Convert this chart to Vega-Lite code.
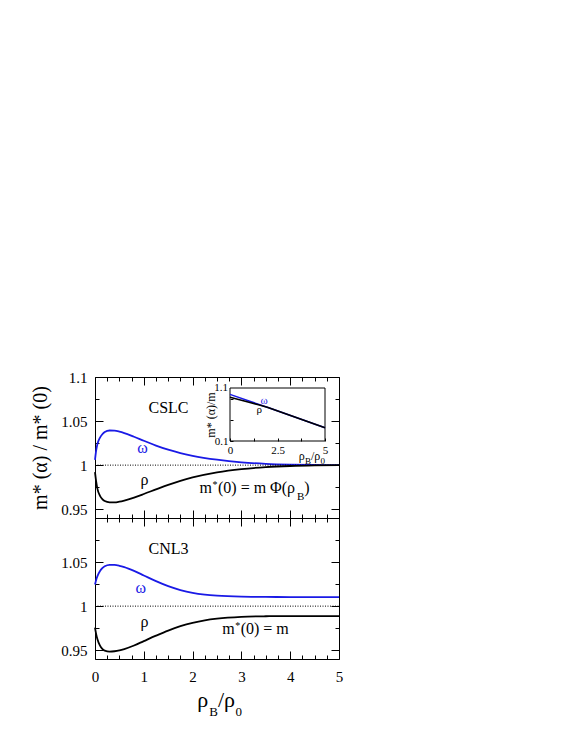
{
  "$schema": "https://vega.github.io/schema/vega-lite/v6.json",
  "padding": {"left": 30, "top": 369, "right": 5, "bottom": 5},
  "config": {
    "font": "Liberation Serif",
    "view": {"stroke": "#000000", "strokeWidth": 1},
    "axis": {"grid": false, "domain": false, "labelFont": "Liberation Serif", "titleFont": "Liberation Serif", "labelColor": "#000000", "titleColor": "#000000", "tickColor": "#000000", "labelFontSize": 15, "titleFontWeight": "normal", "labelFlush": false, "labelOverlap": false, "labelBound": false, "tickWidth": 1, "ticks": true},
    "text": {"font": "Liberation Serif", "align": "left", "baseline": "alphabetic"}
  },
  "datasets": {
    "curves": [
      {"panel": "CSLC", "meson": "ω", "r": 0, "v": 1.006},
      {"panel": "CSLC", "meson": "ω", "r": 0.025, "v": 1.017},
      {"panel": "CSLC", "meson": "ω", "r": 0.05, "v": 1.024},
      {"panel": "CSLC", "meson": "ω", "r": 0.1, "v": 1.031},
      {"panel": "CSLC", "meson": "ω", "r": 0.15, "v": 1.035},
      {"panel": "CSLC", "meson": "ω", "r": 0.2, "v": 1.0375},
      {"panel": "CSLC", "meson": "ω", "r": 0.3, "v": 1.0393},
      {"panel": "CSLC", "meson": "ω", "r": 0.4, "v": 1.0391},
      {"panel": "CSLC", "meson": "ω", "r": 0.5, "v": 1.038},
      {"panel": "CSLC", "meson": "ω", "r": 0.6, "v": 1.0364},
      {"panel": "CSLC", "meson": "ω", "r": 0.8, "v": 1.0322},
      {"panel": "CSLC", "meson": "ω", "r": 1.0, "v": 1.0277},
      {"panel": "CSLC", "meson": "ω", "r": 1.25, "v": 1.0222},
      {"panel": "CSLC", "meson": "ω", "r": 1.5, "v": 1.0175},
      {"panel": "CSLC", "meson": "ω", "r": 1.75, "v": 1.0136},
      {"panel": "CSLC", "meson": "ω", "r": 2.0, "v": 1.0106},
      {"panel": "CSLC", "meson": "ω", "r": 2.5, "v": 1.0062},
      {"panel": "CSLC", "meson": "ω", "r": 3.0, "v": 1.0032},
      {"panel": "CSLC", "meson": "ω", "r": 3.5, "v": 1.0015},
      {"panel": "CSLC", "meson": "ω", "r": 4.0, "v": 1.0006},
      {"panel": "CSLC", "meson": "ω", "r": 4.5, "v": 1.0002},
      {"panel": "CSLC", "meson": "ω", "r": 5.0, "v": 1.0},
      {"panel": "CSLC", "meson": "ρ", "r": 0, "v": 0.992},
      {"panel": "CSLC", "meson": "ρ", "r": 0.025, "v": 0.981},
      {"panel": "CSLC", "meson": "ρ", "r": 0.05, "v": 0.973},
      {"panel": "CSLC", "meson": "ρ", "r": 0.1, "v": 0.9655},
      {"panel": "CSLC", "meson": "ρ", "r": 0.15, "v": 0.9615},
      {"panel": "CSLC", "meson": "ρ", "r": 0.2, "v": 0.9593},
      {"panel": "CSLC", "meson": "ρ", "r": 0.3, "v": 0.9578},
      {"panel": "CSLC", "meson": "ρ", "r": 0.4, "v": 0.9577},
      {"panel": "CSLC", "meson": "ρ", "r": 0.5, "v": 0.9585},
      {"panel": "CSLC", "meson": "ρ", "r": 0.6, "v": 0.9598},
      {"panel": "CSLC", "meson": "ρ", "r": 0.8, "v": 0.9632},
      {"panel": "CSLC", "meson": "ρ", "r": 1.0, "v": 0.9672},
      {"panel": "CSLC", "meson": "ρ", "r": 1.25, "v": 0.9725},
      {"panel": "CSLC", "meson": "ρ", "r": 1.5, "v": 0.9777},
      {"panel": "CSLC", "meson": "ρ", "r": 1.75, "v": 0.9822},
      {"panel": "CSLC", "meson": "ρ", "r": 2.0, "v": 0.986},
      {"panel": "CSLC", "meson": "ρ", "r": 2.5, "v": 0.9918},
      {"panel": "CSLC", "meson": "ρ", "r": 3.0, "v": 0.9955},
      {"panel": "CSLC", "meson": "ρ", "r": 3.5, "v": 0.9977},
      {"panel": "CSLC", "meson": "ρ", "r": 4.0, "v": 0.999},
      {"panel": "CSLC", "meson": "ρ", "r": 4.5, "v": 0.9997},
      {"panel": "CSLC", "meson": "ρ", "r": 5.0, "v": 1.0},
      {"panel": "CNL3", "meson": "ω", "r": 0, "v": 1.0245},
      {"panel": "CNL3", "meson": "ω", "r": 0.025, "v": 1.03},
      {"panel": "CNL3", "meson": "ω", "r": 0.05, "v": 1.034},
      {"panel": "CNL3", "meson": "ω", "r": 0.1, "v": 1.0395},
      {"panel": "CNL3", "meson": "ω", "r": 0.15, "v": 1.043},
      {"panel": "CNL3", "meson": "ω", "r": 0.2, "v": 1.0452},
      {"panel": "CNL3", "meson": "ω", "r": 0.3, "v": 1.0468},
      {"panel": "CNL3", "meson": "ω", "r": 0.4, "v": 1.0467},
      {"panel": "CNL3", "meson": "ω", "r": 0.5, "v": 1.0458},
      {"panel": "CNL3", "meson": "ω", "r": 0.6, "v": 1.0443},
      {"panel": "CNL3", "meson": "ω", "r": 0.8, "v": 1.04},
      {"panel": "CNL3", "meson": "ω", "r": 1.0, "v": 1.0348},
      {"panel": "CNL3", "meson": "ω", "r": 1.25, "v": 1.0283},
      {"panel": "CNL3", "meson": "ω", "r": 1.5, "v": 1.0226},
      {"panel": "CNL3", "meson": "ω", "r": 1.75, "v": 1.0182},
      {"panel": "CNL3", "meson": "ω", "r": 2.0, "v": 1.015},
      {"panel": "CNL3", "meson": "ω", "r": 2.25, "v": 1.013},
      {"panel": "CNL3", "meson": "ω", "r": 2.5, "v": 1.0118},
      {"panel": "CNL3", "meson": "ω", "r": 3.0, "v": 1.0107},
      {"panel": "CNL3", "meson": "ω", "r": 3.5, "v": 1.0104},
      {"panel": "CNL3", "meson": "ω", "r": 4.0, "v": 1.0103},
      {"panel": "CNL3", "meson": "ω", "r": 5.0, "v": 1.0103},
      {"panel": "CNL3", "meson": "ρ", "r": 0, "v": 0.9755},
      {"panel": "CNL3", "meson": "ρ", "r": 0.025, "v": 0.968},
      {"panel": "CNL3", "meson": "ρ", "r": 0.05, "v": 0.9625},
      {"panel": "CNL3", "meson": "ρ", "r": 0.1, "v": 0.9555},
      {"panel": "CNL3", "meson": "ρ", "r": 0.15, "v": 0.9515},
      {"panel": "CNL3", "meson": "ρ", "r": 0.2, "v": 0.9495},
      {"panel": "CNL3", "meson": "ρ", "r": 0.3, "v": 0.9484},
      {"panel": "CNL3", "meson": "ρ", "r": 0.4, "v": 0.9488},
      {"panel": "CNL3", "meson": "ρ", "r": 0.5, "v": 0.9498},
      {"panel": "CNL3", "meson": "ρ", "r": 0.6, "v": 0.9513},
      {"panel": "CNL3", "meson": "ρ", "r": 0.8, "v": 0.9553},
      {"panel": "CNL3", "meson": "ρ", "r": 1.0, "v": 0.9603},
      {"panel": "CNL3", "meson": "ρ", "r": 1.25, "v": 0.9665},
      {"panel": "CNL3", "meson": "ρ", "r": 1.5, "v": 0.9723},
      {"panel": "CNL3", "meson": "ρ", "r": 1.75, "v": 0.9772},
      {"panel": "CNL3", "meson": "ρ", "r": 2.0, "v": 0.981},
      {"panel": "CNL3", "meson": "ρ", "r": 2.25, "v": 0.9838},
      {"panel": "CNL3", "meson": "ρ", "r": 2.5, "v": 0.9857},
      {"panel": "CNL3", "meson": "ρ", "r": 3.0, "v": 0.9878},
      {"panel": "CNL3", "meson": "ρ", "r": 3.5, "v": 0.9885},
      {"panel": "CNL3", "meson": "ρ", "r": 4.0, "v": 0.9887},
      {"panel": "CNL3", "meson": "ρ", "r": 5.0, "v": 0.9887}
    ],
    "inset": [
      {"meson": "ω", "r": 0, "v": 0.98},
      {"meson": "ω", "r": 1, "v": 0.855},
      {"meson": "ω", "r": 2, "v": 0.733},
      {"meson": "ω", "r": 3, "v": 0.605},
      {"meson": "ω", "r": 4, "v": 0.478},
      {"meson": "ω", "r": 5, "v": 0.35},
      {"meson": "ρ", "r": 0, "v": 0.925},
      {"meson": "ρ", "r": 0.5, "v": 0.877},
      {"meson": "ρ", "r": 1, "v": 0.83},
      {"meson": "ρ", "r": 1.5, "v": 0.783},
      {"meson": "ρ", "r": 2, "v": 0.733},
      {"meson": "ρ", "r": 3, "v": 0.605},
      {"meson": "ρ", "r": 4, "v": 0.478},
      {"meson": "ρ", "r": 5, "v": 0.35}
    ],
    "notes": [
      {"panel": "CSLC", "role": "name", "text": "CSLC", "r": 1.096, "v": 1.059, "meson": ""},
      {"panel": "CSLC", "role": "series", "text": "ω", "r": 0.865, "v": 1.0135, "meson": "ω"},
      {"panel": "CSLC", "role": "series", "text": "ρ", "r": 0.932, "v": 0.9778, "meson": "ρ"},
      {"panel": "CSLC", "role": "main", "text": "m", "r": 2.141, "v": 0.9682, "meson": ""},
      {"panel": "CSLC", "role": "sup", "text": "*", "r": 2.41, "v": 0.9738, "meson": ""},
      {"panel": "CSLC", "role": "main", "text": "(0) = m Φ(ρ", "r": 2.52, "v": 0.9682, "meson": ""},
      {"panel": "CSLC", "role": "sub", "text": "B", "r": 4.14, "v": 0.9608, "meson": ""},
      {"panel": "CSLC", "role": "main", "text": ")", "r": 4.29, "v": 0.9682, "meson": ""},
      {"panel": "CNL3", "role": "name", "text": "CNL3", "r": 1.096, "v": 1.0591, "meson": ""},
      {"panel": "CNL3", "role": "series", "text": "ω", "r": 0.83, "v": 1.0151, "meson": "ω"},
      {"panel": "CNL3", "role": "series", "text": "ρ", "r": 0.932, "v": 0.976, "meson": "ρ"},
      {"panel": "CNL3", "role": "main", "text": "m", "r": 2.607, "v": 0.968, "meson": ""},
      {"panel": "CNL3", "role": "sup", "text": "*", "r": 2.875, "v": 0.9736, "meson": ""},
      {"panel": "CNL3", "role": "main", "text": "(0) = m", "r": 2.985, "v": 0.968, "meson": ""},
      {"panel": "CNL3", "role": "xt", "text": "ρ", "r": 2.094, "v": 0.8853, "meson": ""},
      {"panel": "CNL3", "role": "xts", "text": "B", "r": 2.34, "v": 0.8758, "meson": ""},
      {"panel": "CNL3", "role": "xt", "text": "/ρ", "r": 2.52, "v": 0.8853, "meson": ""},
      {"panel": "CNL3", "role": "xts", "text": "0", "r": 2.881, "v": 0.8758, "meson": ""}
    ],
    "insetNotes": [
      {"role": "series", "text": "ω", "r": 1.6, "v": 0.798, "meson": "ω"},
      {"role": "series", "text": "ρ", "r": 1.39, "v": 0.628, "meson": "ρ"},
      {"role": "xt", "text": "ρ", "r": 3.62, "v": -0.258, "meson": ""},
      {"role": "xts", "text": "B", "r": 3.95, "v": -0.334, "meson": ""},
      {"role": "xt", "text": "/ρ", "r": 4.26, "v": -0.258, "meson": ""},
      {"role": "xts", "text": "0", "r": 4.76, "v": -0.334, "meson": ""},
      {"role": "ytick", "text": "1.1", "r": -0.105, "v": 1.1, "meson": ""}
    ]
  },
  "vconcat": [
    {
      "width": 244,
      "height": 141,
      "layer": [
        {
          "data": {"name": "curves"},
          "transform": [{"filter": "datum.panel == 'CSLC'"}],
          "mark": {"type": "line", "strokeWidth": 1.8, "interpolate": "monotone"},
          "encoding": {
            "x": {"field": "r", "type": "quantitative", "scale": {"domain": [0, 5], "nice": false, "zero": false}, "axis": {"orient": "bottom", "values": [0, 1, 2, 3, 4, 5], "offset": -8, "tickSize": 8, "labels": false, "title": null}},
            "y": {"field": "v", "type": "quantitative", "scale": {"domain": [0.94, 1.1], "nice": false, "zero": false}, "axis": {"orient": "left", "values": [0.95, 1, 1.05, 1.1], "offset": -8, "tickSize": 8, "labelPadding": 8, "format": "~g", "title": "m* (α) / m* (0)", "titleFontSize": 20, "titlePadding": 10}},
            "color": {"field": "meson", "type": "nominal", "scale": {"domain": ["ω", "ρ"], "range": ["#1a1ae6", "#000000"]}, "legend": null}
          }
        },
        {
          "data": {"values": [{"start": 0, "end": 5, "level": 1}]},
          "mark": {"type": "rule", "color": "#000000", "strokeWidth": 1, "strokeDash": [1, 1.5]},
          "encoding": {
            "x": {"field": "start", "type": "quantitative", "scale": {"domain": [0, 5], "nice": false, "zero": false}, "axis": {"orient": "top", "values": [0, 1, 2, 3, 4, 5], "offset": -8, "tickSize": 8, "labels": false, "title": null}},
            "x2": {"field": "end"},
            "y": {"field": "level", "type": "quantitative", "scale": {"domain": [0.94, 1.1], "nice": false, "zero": false}, "axis": {"orient": "right", "values": [0.95, 1, 1.05, 1.1], "offset": -8, "tickSize": 8, "labels": false, "title": null}}
          }
        },
        {
          "data": {"name": "notes"},
          "transform": [{"filter": "datum.panel == 'CSLC' && datum.role == 'series'"}],
          "mark": {"type": "text", "fontSize": 16},
          "encoding": {
            "x": {"field": "r", "type": "quantitative", "scale": {"domain": [0, 5], "nice": false, "zero": false}, "axis": {"orient": "bottom", "values": [0.25, 0.5, 0.75, 1.25, 1.5, 1.75, 2.25, 2.5, 2.75, 3.25, 3.5, 3.75, 4.25, 4.5, 4.75], "offset": -4, "tickSize": 4, "labels": false, "title": null}},
            "y": {"field": "v", "type": "quantitative", "scale": {"domain": [0.94, 1.1], "nice": false, "zero": false}, "axis": {"orient": "left", "values": [0.975, 1.025, 1.075], "offset": -4, "tickSize": 4, "labels": false, "title": null}},
            "text": {"field": "text"},
            "color": {"field": "meson", "type": "nominal", "scale": {"domain": ["ω", "ρ"], "range": ["#1a1ae6", "#000000"]}, "legend": null}
          }
        },
        {
          "data": {"name": "notes"},
          "transform": [{"filter": "datum.panel == 'CSLC' && (datum.role == 'name' || datum.role == 'main')"}],
          "mark": {"type": "text", "fontSize": 16, "color": "#000000"},
          "encoding": {
            "x": {"field": "r", "type": "quantitative", "scale": {"domain": [0, 5], "nice": false, "zero": false}, "axis": {"orient": "top", "values": [0.25, 0.5, 0.75, 1.25, 1.5, 1.75, 2.25, 2.5, 2.75, 3.25, 3.5, 3.75, 4.25, 4.5, 4.75], "offset": -4, "tickSize": 4, "labels": false, "title": null}},
            "y": {"field": "v", "type": "quantitative", "scale": {"domain": [0.94, 1.1], "nice": false, "zero": false}, "axis": {"orient": "right", "values": [0.975, 1.025, 1.075], "offset": -4, "tickSize": 4, "labels": false, "title": null}},
            "text": {"field": "text"}
          }
        },
        {
          "data": {"name": "notes"},
          "transform": [{"filter": "datum.panel == 'CSLC' && (datum.role == 'sup' || datum.role == 'sub')"}],
          "mark": {"type": "text", "fontSize": 11, "color": "#000000"},
          "encoding": {
            "x": {"field": "r", "type": "quantitative", "scale": {"domain": [0, 5], "nice": false, "zero": false}, "axis": null},
            "y": {"field": "v", "type": "quantitative", "scale": {"domain": [0.94, 1.1], "nice": false, "zero": false}, "axis": null},
            "text": {"field": "text"},
            "size": {"condition": {"test": "datum.role == 'sup'", "value": 10}, "value": 11}
          }
        },
        {
          "layer": [
            {
              "data": {"values": [{"left": 0, "right": 5, "low": 0.1, "high": 1.1}]},
              "mark": {"type": "rect", "fillOpacity": 0, "stroke": "#000000", "strokeWidth": 1},
              "encoding": {
                "x": {"field": "left", "type": "quantitative", "scale": {"domain": [0, 5], "range": [135, 230], "nice": false, "zero": false}, "axis": {"orient": "bottom", "offset": -80, "values": [0, 1.25, 2.5, 3.75, 5], "labelExpr": "datum.value == 0 ? '0' : (abs(datum.value - 2.5) < 0.01 ? '2.5' : (datum.value == 5 ? '5' : ''))", "labelOverlap": false, "labelBound": false, "labelFlush": false, "tickSize": 3, "labelPadding": 3, "labelFontSize": 11, "title": null}},
                "x2": {"field": "right"},
                "y": {"field": "low", "type": "quantitative", "scale": {"domain": [0.1, 1.1], "range": [64, 11], "nice": false, "zero": false}, "axis": {"orient": "left", "offset": -138, "values": [1.1, 0.9, 0.7, 0.5, 0.3, 0.1], "labelExpr": "datum.value < 0.2 ? '0.1' : ''", "labelOverlap": false, "labelBound": false, "labelFlush": false, "labelBaseline": "middle", "tickSize": 3, "labelPadding": 2, "labelFontSize": 11, "title": "m* (α)/m", "titleFontSize": 12, "titlePadding": -3}},
                "y2": {"field": "high"}
              }
            },
            {
              "data": {"name": "inset"},
              "mark": {"type": "line", "strokeWidth": 1.5},
              "encoding": {
                "x": {"field": "r", "type": "quantitative", "scale": {"domain": [0, 5], "range": [135, 230], "nice": false, "zero": false}},
                "y": {"field": "v", "type": "quantitative", "scale": {"domain": [0.1, 1.1], "range": [64, 11], "nice": false, "zero": false}},
                "color": {"field": "meson", "type": "nominal", "scale": {"domain": ["ω", "ρ"], "range": ["#1a1ae6", "#000000"]}, "legend": null}
              }
            },
            {
              "data": {"name": "insetNotes"},
              "transform": [{"filter": "datum.role == 'series'"}],
              "mark": {"type": "text", "fontSize": 11},
              "encoding": {
                "x": {"field": "r", "type": "quantitative", "scale": {"domain": [0, 5], "range": [135, 230], "nice": false, "zero": false}},
                "y": {"field": "v", "type": "quantitative", "scale": {"domain": [0.1, 1.1], "range": [64, 11], "nice": false, "zero": false}},
                "text": {"field": "text"},
                "color": {"field": "meson", "type": "nominal", "scale": {"domain": ["ω", "ρ"], "range": ["#1a1ae6", "#000000"]}, "legend": null}
              }
            },
            {
              "data": {"name": "insetNotes"},
              "transform": [{"filter": "datum.role == 'ytick'"}],
              "mark": {"type": "text", "fontSize": 11, "color": "#000000", "align": "right", "baseline": "middle"},
              "encoding": {
                "x": {"field": "r", "type": "quantitative", "scale": {"domain": [0, 5], "range": [135, 230], "nice": false, "zero": false}},
                "y": {"field": "v", "type": "quantitative", "scale": {"domain": [0.1, 1.1], "range": [64, 11], "nice": false, "zero": false}},
                "text": {"field": "text"}
              }
            },
            {
              "data": {"name": "insetNotes"},
              "transform": [{"filter": "datum.role == 'xt'"}],
              "mark": {"type": "text", "fontSize": 12, "color": "#000000"},
              "encoding": {
                "x": {"field": "r", "type": "quantitative", "scale": {"domain": [0, 5], "range": [135, 230], "nice": false, "zero": false}},
                "y": {"field": "v", "type": "quantitative", "scale": {"domain": [0.1, 1.1], "range": [64, 11], "nice": false, "zero": false}},
                "text": {"field": "text"}
              }
            },
            {
              "data": {"name": "insetNotes"},
              "transform": [{"filter": "datum.role == 'xts'"}],
              "mark": {"type": "text", "fontSize": 9, "color": "#000000"},
              "encoding": {
                "x": {"field": "r", "type": "quantitative", "scale": {"domain": [0, 5], "range": [135, 230], "nice": false, "zero": false}},
                "y": {"field": "v", "type": "quantitative", "scale": {"domain": [0.1, 1.1], "range": [64, 11], "nice": false, "zero": false}},
                "text": {"field": "text"}
              }
            }
          ]
        }
      ],
      "resolve": {"scale": {"x": "independent", "y": "independent"}}
    },
    {
      "width": 244,
      "height": 141,
      "layer": [
        {
          "data": {"name": "curves"},
          "transform": [{"filter": "datum.panel == 'CNL3'"}],
          "mark": {"type": "line", "strokeWidth": 1.8, "interpolate": "monotone"},
          "encoding": {
            "x": {"field": "r", "type": "quantitative", "scale": {"domain": [0, 5], "nice": false, "zero": false}, "axis": {"orient": "bottom", "values": [0, 1, 2, 3, 4, 5], "offset": -8, "tickSize": 8, "labelPadding": 10, "format": "~g", "title": null}},
            "y": {"field": "v", "type": "quantitative", "scale": {"domain": [0.94, 1.1], "nice": false, "zero": false}, "axis": {"orient": "left", "values": [0.95, 1, 1.05], "offset": -8, "tickSize": 8, "labelPadding": 8, "format": "~g", "title": null}},
            "color": {"field": "meson", "type": "nominal", "scale": {"domain": ["ω", "ρ"], "range": ["#1a1ae6", "#000000"]}, "legend": null}
          }
        },
        {
          "data": {"values": [{"start": 0, "end": 5, "level": 1}]},
          "mark": {"type": "rule", "color": "#000000", "strokeWidth": 1, "strokeDash": [1, 1.5]},
          "encoding": {
            "x": {"field": "start", "type": "quantitative", "scale": {"domain": [0, 5], "nice": false, "zero": false}, "axis": {"orient": "top", "values": [0, 1, 2, 3, 4, 5], "offset": -8, "tickSize": 8, "labels": false, "title": null}},
            "x2": {"field": "end"},
            "y": {"field": "level", "type": "quantitative", "scale": {"domain": [0.94, 1.1], "nice": false, "zero": false}, "axis": {"orient": "right", "values": [0.95, 1, 1.05], "offset": -8, "tickSize": 8, "labels": false, "title": null}}
          }
        },
        {
          "data": {"name": "notes"},
          "transform": [{"filter": "datum.panel == 'CNL3' && datum.role == 'series'"}],
          "mark": {"type": "text", "fontSize": 16},
          "encoding": {
            "x": {"field": "r", "type": "quantitative", "scale": {"domain": [0, 5], "nice": false, "zero": false}, "axis": {"orient": "bottom", "values": [0.25, 0.5, 0.75, 1.25, 1.5, 1.75, 2.25, 2.5, 2.75, 3.25, 3.5, 3.75, 4.25, 4.5, 4.75], "offset": -4, "tickSize": 4, "labels": false, "title": null}},
            "y": {"field": "v", "type": "quantitative", "scale": {"domain": [0.94, 1.1], "nice": false, "zero": false}, "axis": {"orient": "left", "values": [0.975, 1.025, 1.075], "offset": -4, "tickSize": 4, "labels": false, "title": null}},
            "text": {"field": "text"},
            "color": {"field": "meson", "type": "nominal", "scale": {"domain": ["ω", "ρ"], "range": ["#1a1ae6", "#000000"]}, "legend": null}
          }
        },
        {
          "data": {"name": "notes"},
          "transform": [{"filter": "datum.panel == 'CNL3' && (datum.role == 'name' || datum.role == 'main')"}],
          "mark": {"type": "text", "fontSize": 16, "color": "#000000"},
          "encoding": {
            "x": {"field": "r", "type": "quantitative", "scale": {"domain": [0, 5], "nice": false, "zero": false}, "axis": {"orient": "top", "values": [0.25, 0.5, 0.75, 1.25, 1.5, 1.75, 2.25, 2.5, 2.75, 3.25, 3.5, 3.75, 4.25, 4.5, 4.75], "offset": -4, "tickSize": 4, "labels": false, "title": null}},
            "y": {"field": "v", "type": "quantitative", "scale": {"domain": [0.94, 1.1], "nice": false, "zero": false}, "axis": {"orient": "right", "values": [0.975, 1.025, 1.075], "offset": -4, "tickSize": 4, "labels": false, "title": null}},
            "text": {"field": "text"}
          }
        },
        {
          "data": {"name": "notes"},
          "transform": [{"filter": "datum.panel == 'CNL3' && (datum.role == 'sup' || datum.role == 'sub' || datum.role == 'xts')"}],
          "mark": {"type": "text", "fontSize": 11, "color": "#000000"},
          "encoding": {
            "x": {"field": "r", "type": "quantitative", "scale": {"domain": [0, 5], "nice": false, "zero": false}, "axis": null},
            "y": {"field": "v", "type": "quantitative", "scale": {"domain": [0.94, 1.1], "nice": false, "zero": false}, "axis": null},
            "text": {"field": "text"},
            "size": {"condition": {"test": "datum.role == 'xts'", "value": 13}, "value": 10}
          }
        },
        {
          "data": {"name": "notes"},
          "transform": [{"filter": "datum.panel == 'CNL3' && datum.role == 'xt'"}],
          "mark": {"type": "text", "fontSize": 22, "color": "#000000"},
          "encoding": {
            "x": {"field": "r", "type": "quantitative", "scale": {"domain": [0, 5], "nice": false, "zero": false}, "axis": null},
            "y": {"field": "v", "type": "quantitative", "scale": {"domain": [0.94, 1.1], "nice": false, "zero": false}, "axis": null},
            "text": {"field": "text"}
          }
        }
      ],
      "resolve": {"scale": {"x": "independent", "y": "independent"}}
    }
  ],
  "spacing": 0,
  "bounds": "flush"
}
